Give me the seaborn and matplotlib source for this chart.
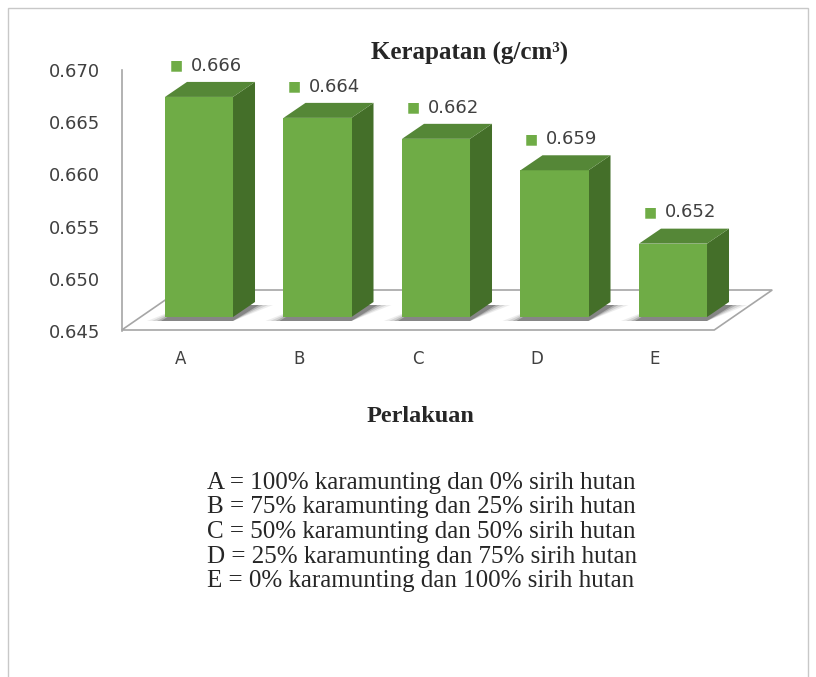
import numpy as np
import pandas as pd
import seaborn as sns
import matplotlib.pyplot as plt
from matplotlib.patches import Polygon, Rectangle
from matplotlib.transforms import ScaledTranslation

# data
perlakuan = ['A', 'B', 'C', 'D', 'E']
kerapatan = [0.666, 0.664, 0.662, 0.659, 0.652]
label_nilai = ['0.666', '0.664', '0.662', '0.659', '0.652']
ytick_vals = [0.645, 0.650, 0.655, 0.660, 0.665, 0.670]
ytick_labels = ['0.645', '0.650', '0.655', '0.660', '0.665', '0.670']
keterangan = [
    'A = 100% karamunting dan 0% sirih hutan',
    'B = 75% karamunting dan 25% sirih hutan',
    'C = 50% karamunting dan 50% sirih hutan',
    'D = 25% karamunting dan 75% sirih hutan',
    'E = 0% karamunting dan 100% sirih hutan',
]

df = pd.DataFrame({'perlakuan': perlakuan, 'kerapatan': kerapatan})

sns.set_style('white')
plt.rcParams['font.family'] = ['DejaVu Sans']

W, H = 816, 677
fig = plt.figure(figsize=(W / 100, H / 100), dpi=100)

def box(left, top, right, bottom):
    # pixel box (origin top-left) -> figure fraction
    return [left / W, 1 - bottom / H, (right - left) / W, (bottom - top) / H]

hijau = '#6FAC46'
hijau_atas = '#558737'
hijau_sisi = '#446F29'
abu = '#404040'
garis = '#A6A6A6'

# outer frame
fig.patches.append(Rectangle((8 / W, -0.02), 800 / W, 1.02 - 8 / H, transform=fig.transFigure,
                             fill=False, edgecolor='#C8C8C8', lw=1.0))

# wall axis carrying the value scale
wall = fig.add_axes(box(122, 70, 735, 331))
wall.set_ylim(0.645, 0.670)
wall.set_yticks(ytick_vals)
wall.set_yticklabels(ytick_labels, fontsize=13, color=abu)
wall.tick_params(axis='y', length=0, pad=16)
wall.set_xticks([])
for s in ['top', 'right', 'bottom']:
    wall.spines[s].set_visible(False)
wall.spines['left'].set_color(garis)
wall.spines['left'].set_linewidth(1.2)
wall.patch.set_visible(False)

# front plane with the bars
ax = fig.add_axes(box(139.75, 55, 732.25, 317))
ax.patch.set_visible(False)
sns.barplot(data=df, x='perlakuan', y='kerapatan', color=hijau, saturation=1,
            width=0.574, linewidth=0, ax=ax, zorder=2)
ax.set_ylim(0.645, 0.670)
ax.set_xlim(-0.5, len(perlakuan) - 0.5)
ax.set_xlabel('')
ax.set_ylabel('')
ax.set_yticks([])
sns.despine(ax=ax, left=True, bottom=True)
ax.tick_params(axis='x', length=0, pad=24, labelsize=12, labelcolor=abu)
for lab in ax.get_xticklabels():
    lab.set_transform(lab.get_transform() + ScaledTranslation(-0.18, 0, fig.dpi_scale_trans))

def geser(x, y, dxp, dyp):
    X, Y = ax.transData.transform((x, y))
    return ax.transData.inverted().transform((X + dxp, Y + dyp))

dx, dy = 22, 15
y0 = ax.get_ylim()[0]

# floor
fl = geser(-0.5, y0, -18, -13)
fr = geser(len(perlakuan) - 0.5, y0, -18, -13)
bl = geser(-0.5, y0, -18 + 58, -13 + 40)
br = geser(len(perlakuan) - 0.5, y0, -18 + 58, -13 + 40)
ax.add_patch(Polygon([fl, fr, br, bl], closed=True, facecolor='white', edgecolor=garis,
                     lw=1.2, zorder=0.5, clip_on=False))

for p, teks in zip(ax.patches[:len(perlakuan)], label_nilai):
    x0 = p.get_x()
    x1 = x0 + p.get_width()
    top = p.get_y() + p.get_height()
    # soft shadow on the floor
    for k, a in [(18, 0.07), (13, 0.10), (8, 0.16), (4, 0.24)]:
        sh = [geser(x0, y0, -k, -4), geser(x1, y0, 0, -4),
              geser(x1, y0, dx + k, dy - 3), geser(x0, y0, dx, dy - 3)]
        ax.add_patch(Polygon(sh, closed=True, facecolor='black', edgecolor='none',
                             alpha=a, zorder=0.8, clip_on=False))
    # top face
    atas = [(x0, top), (x1, top), geser(x1, top, dx, dy), geser(x0, top, dx, dy)]
    ax.add_patch(Polygon(atas, closed=True, facecolor=hijau_atas, edgecolor='none',
                         zorder=2.1, clip_on=False))
    # side face
    sisi = [(x1, y0), (x1, top), geser(x1, top, dx, dy), geser(x1, y0, dx, dy)]
    ax.add_patch(Polygon(sisi, closed=True, facecolor=hijau_sisi, edgecolor='none',
                         zorder=1.9, clip_on=False))
    cx = x0 + p.get_width() / 2
    ax.annotate('\u25A0', xy=(cx, top), xytext=(-16.5, 22.5), textcoords='offset points',
                ha='center', va='center', fontsize=10, color=hijau, annotation_clip=False)
    ax.annotate(teks, xy=(cx, top), xytext=(-6, 22.5), textcoords='offset points',
                ha='left', va='center', fontsize=13, color=abu, annotation_clip=False)

serif = ['Liberation Serif', 'DejaVu Serif']
fig.text(470 / W, 1 - 53 / H, 'Kerapatan (g/cm\u00b3)', ha='center', va='center',
         fontsize=18, fontweight='bold', family=serif)
fig.text(420 / W, 1 - 416 / H, 'Perlakuan', ha='center', va='center',
         fontsize=17.5, fontweight='bold', family=serif)
fig.text(422 / W, 1 - 532 / H, '\n'.join(keterangan), ha='center', va='center',
         multialignment='left', fontsize=18, family=serif, linespacing=1.15)

fig.savefig('out.png', dpi=100)
